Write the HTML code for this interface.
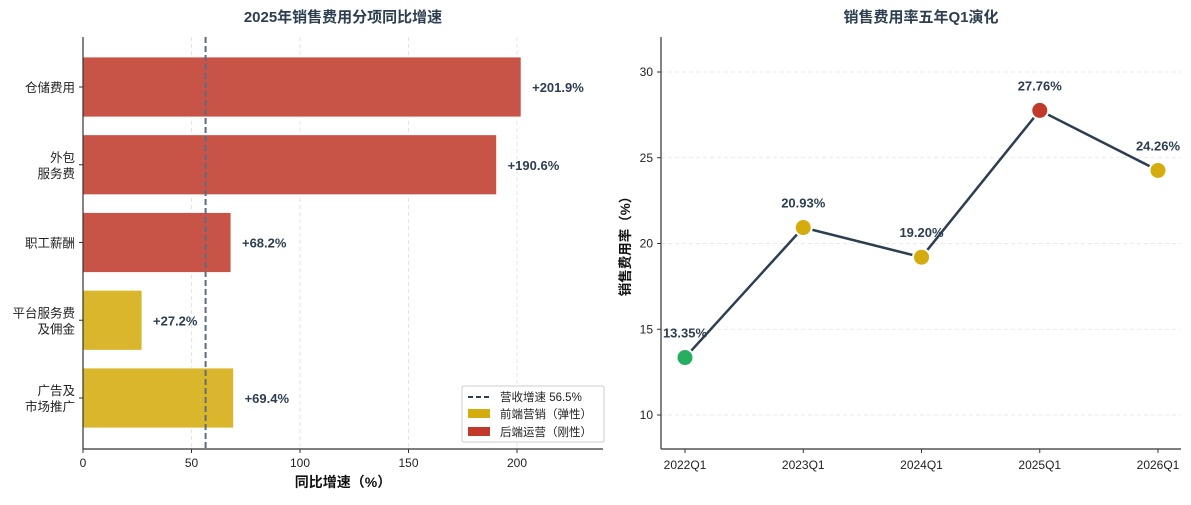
<!DOCTYPE html>
<html><head><meta charset="utf-8"><style>
body{margin:0;background:#fff;font-family:"Liberation Sans","Noto Sans CJK SC",sans-serif;}
svg text{font-family:"Liberation Sans","Noto Sans CJK SC",sans-serif;}
</style></head><body>
<svg id="c" width="1191" height="500" viewBox="0 0 1191 500" xmlns="http://www.w3.org/2000/svg"></svg>
<script>
const barCats=[["仓储费用"],["外包","服务费"],["职工薪酬"],["平台服务费","及佣金"],["广告及","市场推广"]];
const barVals=[201.9,190.6,68.2,27.2,69.4];
const barGroup=["back","back","back","front","front"];
const revGrowth=56.5;
const xTicks=[0,50,100,150,200];
const lineCats=["2022Q1","2023Q1","2024Q1","2025Q1","2026Q1"];
const lineVals=[13.35,20.93,19.20,27.76,24.26];
const lineColors=["#27ae60","#d4ac0d","#d4ac0d","#c0392b","#d4ac0d"];
const yTicks=[10,15,20,25,30];

const NS="http://www.w3.org/2000/svg";
const svg=document.getElementById('c');
function el(t,a,p){const e=document.createElementNS(NS,t);for(const k in a)e.setAttribute(k,a[k]);(p||svg).appendChild(e);return e;}
function tx(s,a,p){const e=el('text',a,p);e.textContent=s;return e;}

// LEFT
const L={x0:83,x1:603,y0:37,y1:449};
const xs=v=>L.x0+v*(517-83)/200;
const ys=i=>87+i*77.75;
let t=tx("2025年销售费用分项同比增速",{x:343,y:22,'text-anchor':'middle','font-size':15,'font-weight':'bold',fill:'#2c3e50'});

xTicks.forEach(v=>{
 el('line',{x1:xs(v),x2:xs(v),y1:L.y0,y2:L.y1,stroke:'#ddd','stroke-dasharray':'4,3','stroke-width':0.8});
 el('line',{x1:xs(v),x2:xs(v),y1:L.y1,y2:L.y1+4,stroke:'#333'});
 const tt=tx(String(v),{x:xs(v),y:L.y1+18,'text-anchor':'middle','font-size':12,fill:'#222'});
 
});
barVals.forEach((v,i)=>{
 const c=barGroup[i]=="back"?"#c85347":"#dab62c";
 const r=el('rect',{x:L.x0,y:ys(i)-30,width:xs(v)-L.x0,height:60,fill:c,stroke:'#fff','stroke-width':0.8});
 
 const lb=tx('+'+v.toFixed(1)+'%',{x:xs(v)+11,y:ys(i)+5,'font-size':13,'font-weight':'bold',fill:'#2c3e50'});
 
 el('line',{x1:L.x0-4,x2:L.x0,y1:ys(i),y2:ys(i),stroke:'#333'});
 const lines=barCats[i];
 lines.forEach((s,j)=>{
  const ct=tx(s,{x:L.x0-8,y:ys(i)+5+(j-(lines.length-1)/2)*16,'text-anchor':'end','font-size':12.5,fill:'#222'});
  
 });
});
const dl=el('line',{x1:xs(revGrowth),x2:xs(revGrowth),y1:L.y0,y2:L.y1,stroke:'#5d6d7e','stroke-width':2,'stroke-dasharray':'6,3'});

el('line',{x1:L.x0,x2:L.x0,y1:L.y0,y2:L.y1,stroke:'#333','stroke-width':1.2});
el('line',{x1:L.x0,x2:L.x1,y1:L.y1,y2:L.y1,stroke:'#333','stroke-width':1.2});
t=tx("同比增速（%）",{x:343,y:487,'text-anchor':'middle','font-size':14,'font-weight':'bold',fill:'#111'});

// legend
const lg=el('g',{});
el('rect',{x:462,y:386,width:142,height:56,fill:'#fff',stroke:'#ccc',rx:2},lg);
el('line',{x1:468,x2:490,y1:397,y2:397,stroke:'#2c3e50','stroke-width':2,'stroke-dasharray':'5,3'},lg);
tx("营收增速 56.5%",{x:500,y:401,'font-size':11.5,fill:'#222'},lg);
el('rect',{x:468,y:409,width:22,height:9,fill:'#d4ac0d'},lg);
tx("前端营销（弹性）",{x:500,y:418,'font-size':11.5,fill:'#222'},lg);
el('rect',{x:468,y:427,width:22,height:9,fill:'#c0392b'},lg);
tx("后端运营（刚性）",{x:500,y:436,'font-size':11.5,fill:'#222'},lg);

// RIGHT
const R={x0:661,x1:1181,y0:37,y1:449};
const rx=i=>685+i*118.25;
const ry=v=>72+(30-v)*(415-72)/20;
t=tx("销售费用率五年Q1演化",{x:921,y:22,'text-anchor':'middle','font-size':15,'font-weight':'bold',fill:'#2c3e50'});

yTicks.forEach(v=>{
 el('line',{x1:R.x0,x2:R.x1,y1:ry(v),y2:ry(v),stroke:'#e3e3e3','stroke-dasharray':'4,3','stroke-width':0.8});
 el('line',{x1:R.x0-4,x2:R.x0,y1:ry(v),y2:ry(v),stroke:'#333'});
 const tt=tx(String(v),{x:R.x0-8,y:ry(v)+4,'text-anchor':'end','font-size':12,fill:'#222'});
 
});
lineCats.forEach((c,i)=>{
 el('line',{x1:rx(i),x2:rx(i),y1:R.y1,y2:R.y1+4,stroke:'#333'});
 const tt=tx(c,{x:rx(i),y:R.y1+20,'text-anchor':'middle','font-size':12,fill:'#222'});
 
});
let d='';lineVals.forEach((v,i)=>{d+=(i?'L':'M')+rx(i)+','+ry(v);});
const pl=el('path',{d:d,fill:'none',stroke:'#2c3e50','stroke-width':2.5});

lineVals.forEach((v,i)=>{
 const m=el('circle',{cx:rx(i),cy:ry(v),r:8.5,fill:lineColors[i],stroke:'#fff','stroke-width':2});
 
 const lb=tx(v.toFixed(2)+'%',{x:rx(i),y:ry(v)-20,'text-anchor':'middle','font-size':13,'font-weight':'bold',fill:'#2c3e50'});
 
});
el('line',{x1:R.x0,x2:R.x0,y1:R.y0,y2:R.y1,stroke:'#333','stroke-width':1.2});
el('line',{x1:R.x0,x2:R.x1,y1:R.y1,y2:R.y1,stroke:'#333','stroke-width':1.2});
t=tx("销售费用率（%）",{x:0,y:0,transform:'translate(630,243) rotate(-90)','text-anchor':'middle','font-size':13.5,'font-weight':'bold',fill:'#111'});

</script>
</body></html>
